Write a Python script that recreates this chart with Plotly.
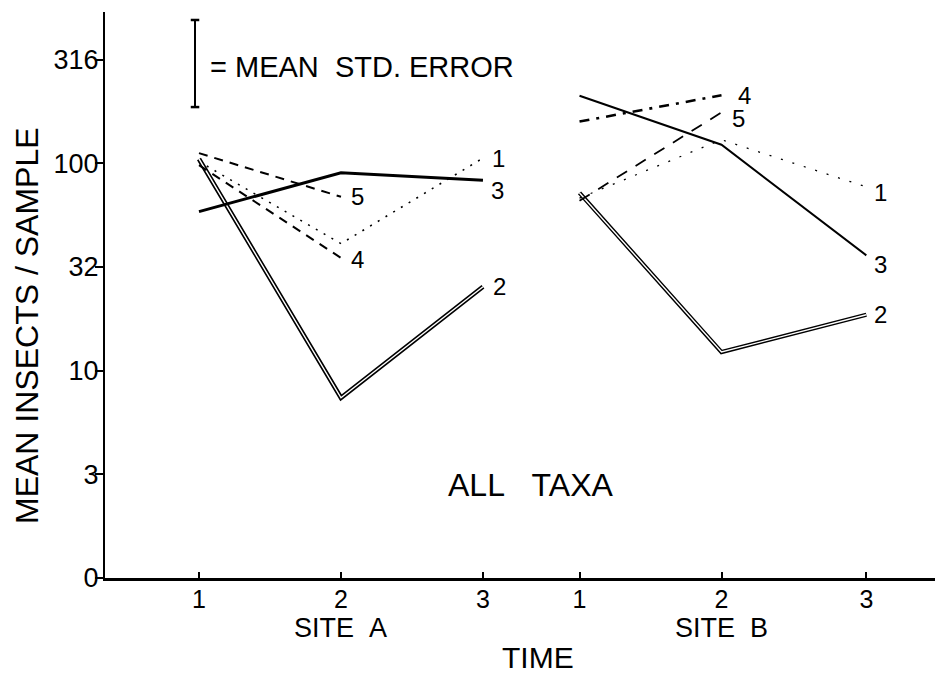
import math
import plotly.graph_objects as go

# ---------------- data ----------------
TIME_LABELS = ["1", "2", "3"]
SITE_LABELS = ["SITE\u00a0\u00a0A", "SITE\u00a0\u00a0B"]
Y_TICK_VALUES = [1, 3.162, 10, 31.62, 100, 316.2]
Y_TICK_LABELS = ["0", "3", "10", "32", "100", "316"]

# series 1..5, mean insects per sample at times 1,2,3 for each site
S1_A = [102, 41, 106]
S1_B = [68, 130, 77]
S2_A = [105, 7.4, 25.4]
S2_B = [72, 12.3, 18.6]
S3_A = [58.5, 90, 83]
S3_B = [212, 123, 36]
S4_A = [98, 35]
S4_B = [159, 213]
S5_A = [112, 69]
S5_B = [66, 176]

SE_CENTER = 303          # centre of the "mean std. error" key bar
SE_LOG_HALF = 0.21       # half length, in decades

# ---------------- layout positions ----------------
XA = [1, 2, 3]
XB = [3.68, 4.68, 5.7]
FONT = "Liberation Sans, Arial, sans-serif"
PW, PH = 838, 566        # plot area size in px

fig = go.Figure()


def line(x, y, width, dash="solid", color="black"):
    fig.add_trace(go.Scatter(x=x, y=y, mode="lines",
                             line=dict(color=color, width=width, dash=dash),
                             hoverinfo="skip", showlegend=False))


# series 1 : dotted
line(XA, S1_A, 1.6, "2px,7px")
line(XB, S1_B, 1.3, "2px,10px")
# series 2 : double line
line(XA, S2_A, 4.6)
line(XA, S2_A, 1.4, color="white")
line(XB, S2_B, 4.2)
line(XB, S2_B, 1.4, color="white")
# series 3 : solid
line(XA, S3_A, 3)
line(XB, S3_B, 2)
# series 4 : dashed (A) / dash-dot (B)
line(XA[:2], S4_A, 2, "9px,7px")
line(XB[:2], S4_B, 2.6, "10px,7px,3px,7px")
# series 5 : dashed
line(XA[:2], S5_A, 2, "9px,7px")
line(XB[:2], S5_B, 1.8, "12px,10px")

# series end labels (annotation y on a log axis is given in log10)
labels = [
    ("5", XA[1], S5_A[1], 8, 0),
    ("4", XA[1], S4_A[1], 8, -2),
    ("1", XA[2], S1_A[2], 7, 0),
    ("3", XA[2], S3_A[2], 6, -10),
    ("2", XA[2], S2_A[2], 8, 0),
    ("4", XB[1], S4_B[1], 14, 0),
    ("5", XB[1], S5_B[1], 8, -6),
    ("1", XB[2], S1_B[2], 6, -6),
    ("3", XB[2], S3_B[2], 6, -9),
    ("2", XB[2], S2_B[2], 6, 0),
]
annotations = []
for txt, x, y, dx, dy in labels:
    annotations.append(dict(text=txt, x=x, y=math.log10(y), xref="x", yref="y",
                            yanchor="middle", xanchor="left", xshift=dx, yshift=dy,
                            showarrow=False,
                            font=dict(family=FONT, size=24, color="black")))

# axis texts
annotations += [
    dict(text=SITE_LABELS[0], x=XA[1], y=0, xref="x", yref="paper", yshift=-50,
         yanchor="middle", showarrow=False, font=dict(family=FONT, size=27, color="black")),
    dict(text=SITE_LABELS[1], x=XB[1], y=0, xref="x", yref="paper", yshift=-50,
         yanchor="middle", showarrow=False, font=dict(family=FONT, size=27, color="black")),
    dict(text="TIME", x=(XA[2] + XB[0]) / 2 + 0.05, y=0, xref="x", yref="paper", yshift=-79,
         yanchor="middle", showarrow=False, font=dict(family=FONT, size=30, color="black")),
    dict(text="MEAN INSECTS / SAMPLE", x=0, y=(570 - 318) / PH, xref="paper", yref="paper",
         xshift=-78, textangle=-90, xanchor="center", yanchor="middle", showarrow=False,
         borderpad=0, font=dict(family=FONT, size=32, color="black")),
    dict(text="ALL\u00a0\u00a0\u00a0TAXA", x=(530 - 105) / PW, y=(570 - 497) / PH,
         xref="paper", yref="paper", showarrow=False,
         font=dict(family=FONT, size=32, color="black")),
    dict(text="=\u00a0MEAN\u00a0\u00a0STD.\u00a0ERROR", x=1.063, y=(570 - 59) / PH,
         xref="x", yref="paper", xanchor="left", yanchor="middle", showarrow=False,
         font=dict(family=FONT, size=29, color="black")),
]

# mean std. error key bar
lo = 10 ** (math.log10(SE_CENTER) - SE_LOG_HALF)
hi = 10 ** (math.log10(SE_CENTER) + SE_LOG_HALF)
bx = 0.972
shapes = [
    dict(type="line", xref="x", yref="y", x0=bx, x1=bx, y0=lo, y1=hi,
         line=dict(color="black", width=2)),
    dict(type="line", xref="x", yref="y", x0=bx - 0.03, x1=bx + 0.03,
         y0=lo, y1=lo, line=dict(color="black", width=2.5)),
    dict(type="line", xref="x", yref="y", x0=bx - 0.03, x1=bx + 0.03,
         y0=hi, y1=hi, line=dict(color="black", width=2.5)),
]

# the page body has an 8px margin, so the figure is 8px smaller than the window
fig.update_layout(
    width=935, height=668,
    margin=dict(l=97, r=0, t=4, b=98),
    paper_bgcolor="white", plot_bgcolor="white",
    showlegend=False,
    annotations=annotations,
    shapes=shapes,
    xaxis=dict(range=[0.338, 6.24], tickmode="array", tickvals=XA + XB,
               ticktext=TIME_LABELS + TIME_LABELS, showgrid=False, zeroline=False,
               showline=True, linecolor="black", linewidth=3,
               ticks="inside", ticklen=6, tickwidth=1.5, tickcolor="black",
               ticklabelstandoff=-3,
               tickfont=dict(family=FONT, size=25, color="black")),
    yaxis=dict(type="log", range=[0, 2.73], tickmode="array", tickvals=Y_TICK_VALUES,
               ticktext=Y_TICK_LABELS, showgrid=False, zeroline=False,
               showline=True, linecolor="black", linewidth=2,
               ticks="outside", ticklen=8, tickwidth=2, tickcolor="black",
               ticklabelstandoff=-9,
               tickfont=dict(family=FONT, size=27, color="black")),
)

fig.write_html("out.html")
